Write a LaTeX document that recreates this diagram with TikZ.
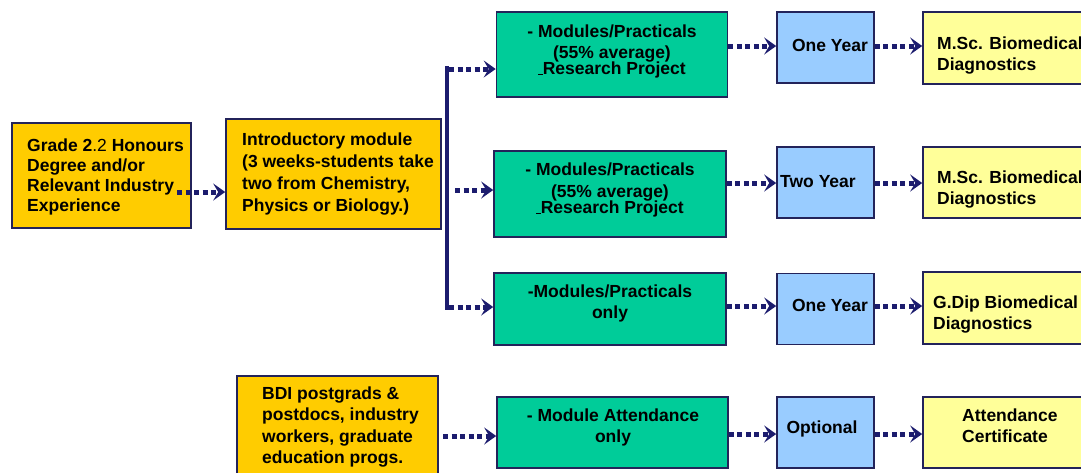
\documentclass[tikz,border=0pt]{standalone}
\usepackage{fontspec}
\setmainfont{Liberation Sans}
\usetikzlibrary{arrows.meta}
\definecolor{gold}{RGB}{255,204,0}
\definecolor{grn}{RGB}{0,204,153}
\definecolor{lblue}{RGB}{153,204,255}
\definecolor{lyel}{RGB}{255,255,153}
\definecolor{edge}{RGB}{35,35,90}
\definecolor{navy}{RGB}{28,28,110}
\newcommand{\lowbar}{\rule[-0.5pt]{4.5pt}{1pt}}
\begin{document}
\begin{tikzpicture}[x=1pt,y=-1pt,
  box/.style={draw=edge,line width=1.6pt,inner sep=0pt},
  goldbox/.style={box,fill=gold},
  grnbox/.style={box,fill=grn},
  bluebox/.style={box,fill=lblue},
  yelbox/.style={box,fill=lyel},
  lbl/.style={font=\bfseries\fontsize{17.5}{21}\selectfont,inner sep=0pt,text=black},
  arr/.style={draw=navy,line width=5pt,dash pattern=on 5pt off 3.5pt,
    -{Stealth[length=12pt,width=17pt,inset=5pt]}},
  barline/.style={draw=navy,line width=4.5pt}]
\useasboundingbox (0,0) rectangle (1081,472);
\begin{scope}
\clip (0,0) rectangle (1081,472);
% boxes
\node[goldbox,minimum width=179pt,minimum height=105pt] (A) at (101.5,175.5) {};
\node[goldbox,minimum width=215pt,minimum height=110pt] (B) at (333.5,174) {};
\node[goldbox,minimum width=201pt,minimum height=112pt] (D) at (337.5,432) {};
\node[grnbox,minimum width=231pt,minimum height=85pt] (g1) at (612,54.5) {};
\node[grnbox,minimum width=232pt,minimum height=86pt] (g2) at (610,194) {};
\node[grnbox,minimum width=232pt,minimum height=72pt] (g3) at (610,309) {};
\node[grnbox,minimum width=231pt,minimum height=71pt] (g4) at (612.5,432.5) {};
\node[bluebox,minimum width=97pt,minimum height=71pt] (b1) at (825.5,47.5) {};
\node[bluebox,minimum width=97pt,minimum height=71pt] (b2) at (825.5,182.5) {};
\node[bluebox,minimum width=97pt,minimum height=71pt] (b3) at (825.5,309) {};
\node[bluebox,minimum width=97pt,minimum height=71pt] (b4) at (825.5,432.5) {};
\node[yelbox,minimum width=170pt,minimum height=72pt] (y1) at (1008,48) {};
\node[yelbox,minimum width=170pt,minimum height=71pt] (y2) at (1008,182.5) {};
\node[yelbox,minimum width=170pt,minimum height=72pt] (y3) at (1008,308) {};
\node[yelbox,minimum width=170pt,minimum height=71pt] (y4) at (1008,432.5) {};
% texts
\node[lbl,anchor=west,align=left,font=\bfseries\fontsize{17.5}{20}\selectfont] (At) at (27,177)
  {Grade 2{\mdseries.2} Honours\\Degree and/or\\Relevant Industry\\Experience};
\node[lbl,anchor=west,align=left,font=\bfseries\fontsize{17.5}{22}\selectfont] (Bt) at (242,174)
  {Introductory module\\(3 weeks-students take\\two from Chemistry,\\Physics or Biology.)};
\node[lbl,anchor=west,align=left,font=\bfseries\fontsize{17.5}{21.5}\selectfont] (Dt) at (262,427)
  {BDI postgrads \&\\postdocs, industry\\workers, graduate\\education progs.};
\node[lbl,align=center] (g1t) at (612,51)
  {- Modules/Practicals\\[0pt](55\% average)\\[-5pt]\lowbar Research Project};
\node[lbl,align=center] (g2t) at (610,190)
  {- Modules/Practicals\\[1pt](55\% average)\\[-5pt]\lowbar Research Project};
\node[lbl,align=center] (g3t) at (610,303) {-Modules/Practicals\\only};
\node[lbl,align=center] (g4t) at (613,427) {- Module Attendance\\only};
\node[lbl] (b1t) at (830,45) {One Year};
\node[lbl,anchor=west] (b2t) at (780,182) {Two Year};
\node[lbl] (b3t) at (830,305) {One Year};
\node[lbl] (b4t) at (822,429) {Optional};
\node[lbl,anchor=west,align=left] (y1t) at (937,56) {M.Sc. Biomedical\\Diagnostics};
\node[lbl,anchor=west,align=left] (y2t) at (937,190) {M.Sc. Biomedical\\Diagnostics};
\node[lbl,anchor=west,align=left] (y3t) at (933,315) {G.Dip Biomedical\\Diagnostics};
\node[lbl,anchor=west,align=left] (y4t) at (962,426) {Attendance\\Certificate};
% connectors
\coordinate (a0) at (177,192);
\draw[arr] (a0) -- (B.west |- a0);
\coordinate (barT) at (447,66);
\coordinate (barB) at (447,310);
\draw[barline] (barT) -- (barB);
\coordinate (s1) at (449,69);
\coordinate (s2) at (455,190);
\coordinate (s3) at (449,307);
\draw[arr] (s1) -- (g1.west |- s1);
\draw[arr] (s2) -- (g2.west |- s2);
\draw[arr] (s3) -- (g3.west |- s3);
\coordinate (r1) at (0,46);
\coordinate (r2) at (0,183);
\coordinate (r3) at (0,306);
\coordinate (r4) at (0,434);
\draw[arr] (g1.east |- r1) -- (b1.west |- r1);
\draw[arr] (b1.east |- r1) -- (y1.west |- r1);
\draw[arr] (g2.east |- r2) -- (b2.west |- r2);
\draw[arr] (b2.east |- r2) -- (y2.west |- r2);
\draw[arr] (g3.east |- r3) -- (b3.west |- r3);
\draw[arr] (b3.east |- r3) -- (y3.west |- r3);
\coordinate (d0) at (443,436);
\draw[arr] (d0) -- (g4.west |- d0);
\draw[arr] (g4.east |- r4) -- (b4.west |- r4);
\draw[arr] (b4.east |- r4) -- (y4.west |- r4);
\end{scope}
\end{tikzpicture}
\end{document}
